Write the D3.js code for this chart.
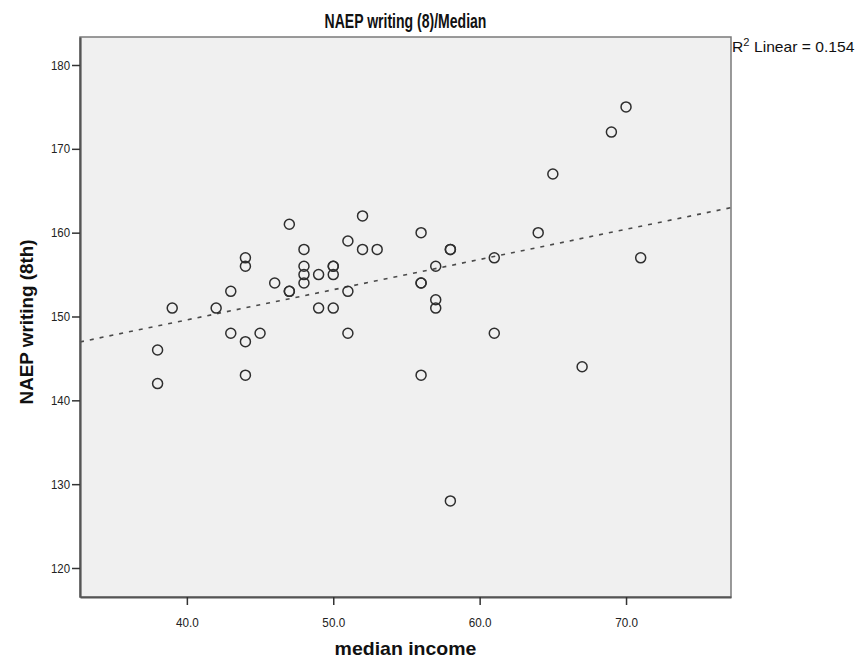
<!DOCTYPE html>
<html>
<head>
<meta charset="utf-8">
<script src="https://cdn.jsdelivr.net/npm/d3@7"></script>
<style>
  html, body { margin: 0; padding: 0; background: #ffffff; }
  svg { display: block; font-family: "Liberation Sans", Arial, sans-serif; }
</style>
</head>
<body>
<svg id="chart" width="855" height="663"></svg>
<script>
// Median household income (thousands) per state
const income = [
  38, 38, 39, 42, 43, 43, 44, 44, 44, 44,
  45, 46, 47, 47, 47, 48, 48, 48, 48, 49,
  49, 50, 50, 50, 50, 51, 51, 51, 52, 52,
  53, 56, 56, 56, 56, 57, 57, 57, 58, 58,
  58, 61, 61, 64, 65, 67, 69, 70, 71
];
// NAEP 8th grade writing scores, same state order
const writing = [
  146, 142, 151, 151, 153, 148, 157, 156, 147, 143,
  148, 154, 161, 153, 153, 158, 156, 155, 154, 155,
  151, 156, 156, 155, 151, 159, 153, 148, 162, 158,
  158, 160, 154, 154, 143, 156, 152, 151, 158, 158,
  128, 157, 148, 160, 167, 144, 172, 175, 157
];
const xTicks = [40, 50, 60, 70];
const yTicks = [120, 130, 140, 150, 160, 170, 180];
const chartTitle = "NAEP writing (8)/Median";
const xTitle = "median income";
const yTitle = "NAEP writing (8th)";
const r2Text = "0.154";

const svg = d3.select("#chart");
const plot = { left: 80, right: 731, top: 37, bottom: 597 };

const x = d3.scaleLinear().domain([32.7, 77.17]).range([plot.left, plot.right]);
const y = d3.scaleLinear().domain([116.54, 183.34]).range([plot.bottom, plot.top]);

// squeeze a text element horizontally (about its anchor x) by factor k
function squeeze(text, k) {
  const ax = +text.attr("x") || 0;
  text.attr("transform", `translate(${ax * (1 - k)},0) scale(${k},1)`);
}
// squeeze a text element to a given rendered width
function fitWidth(text, width) {
  squeeze(text, width / text.node().getComputedTextLength());
}

// plot panel
svg.append("rect")
  .attr("x", plot.left).attr("y", plot.top)
  .attr("width", plot.right - plot.left).attr("height", plot.bottom - plot.top)
  .attr("fill", "#f0f0f0")
  .attr("stroke", "#7a7a7a").attr("stroke-width", 1.5);

// least-squares fit line
const pts = income.map((v, i) => [v, writing[i]]);
const mx = d3.mean(income), my = d3.mean(writing);
const sxy = d3.sum(pts, p => (p[0] - mx) * (p[1] - my));
const sxx = d3.sum(pts, p => (p[0] - mx) ** 2);
const slope = sxy / sxx, intercept = my - slope * mx;
const [x0, x1] = x.domain();
svg.append("line")
  .attr("x1", x(x0)).attr("y1", y(intercept + slope * x0))
  .attr("x2", x(x1)).attr("y2", y(intercept + slope * x1))
  .attr("stroke", "#4a4a4a").attr("stroke-width", 1.6)
  .attr("stroke-dasharray", "4,6");

// scatter points
svg.append("g").selectAll("circle")
  .data(pts).join("circle")
  .attr("cx", d => x(d[0])).attr("cy", d => y(d[1]))
  .attr("r", 5)
  .attr("fill", "none")
  .attr("stroke", "#2e2e2e").attr("stroke-width", 1.5);

// axes
const xAxis = svg.append("g")
  .attr("transform", `translate(0,${plot.bottom})`)
  .call(d3.axisBottom(x).tickValues(xTicks).tickFormat(d3.format(".1f")).tickSize(8).tickSizeOuter(0));
const yAxis = svg.append("g")
  .attr("transform", `translate(${plot.left},0)`)
  .call(d3.axisLeft(y).tickValues(yTicks).tickSize(8).tickSizeOuter(0));

[xAxis, yAxis].forEach(g => {
  g.select(".domain").attr("stroke", "#555").attr("stroke-width", 2.2);
  g.selectAll(".tick line").attr("stroke", "#333").attr("stroke-width", 1.5);
  g.selectAll(".tick text")
    .attr("fill", "#222")
    .style("font-size", "13px")
    .style("font-family", "'Liberation Sans', Arial, sans-serif");
});
xAxis.selectAll(".tick text").attr("dy", "1.45em").each(function () { squeeze(d3.select(this), 0.9); });
yAxis.selectAll(".tick text").attr("x", -10).each(function () { squeeze(d3.select(this), 0.88); });

// chart title
const cx = (plot.left + plot.right) / 2;
const title = svg.append("text")
  .attr("x", cx).attr("y", 28)
  .attr("text-anchor", "middle")
  .style("font-size", "20px").style("font-weight", "bold").attr("fill", "#111")
  .text(chartTitle);
fitWidth(title, 162);

// x axis title
const xt = svg.append("text")
  .attr("x", cx).attr("y", 655)
  .attr("text-anchor", "middle")
  .style("font-size", "18px").style("font-weight", "bold").attr("fill", "#111")
  .text(xTitle);
fitWidth(xt, 142);

// y axis title (rotated; width applies along the text direction)
const yt = svg.append("g")
  .attr("transform", `translate(33,${(plot.top + plot.bottom) / 2 + 5}) rotate(-90)`)
  .append("text")
  .attr("x", 0).attr("y", 0)
  .attr("text-anchor", "middle")
  .style("font-size", "18px").style("font-weight", "bold").attr("fill", "#111")
  .text(yTitle);
fitWidth(yt, 165);

// fit statistic label
const r2 = svg.append("text")
  .attr("x", plot.right + 1).attr("y", 52)
  .style("font-size", "14px").attr("fill", "#111");
r2.append("tspan").text("R");
r2.append("tspan").attr("dy", -6).style("font-size", "10px").text("2");
r2.append("tspan").attr("dy", 6).attr("dx", 4).text("Linear = " + r2Text);
fitWidth(r2, 118);
</script>
</body>
</html>
